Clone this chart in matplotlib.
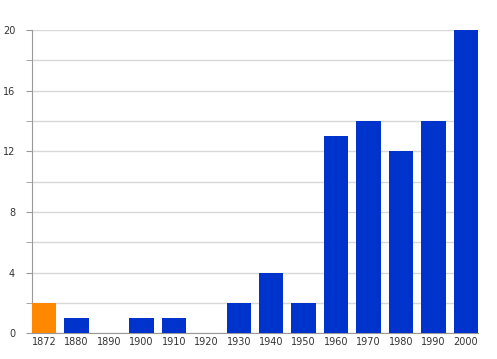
import matplotlib
matplotlib.use("Agg")
import matplotlib.pyplot as plt
import numpy as np

years = ['1872', '1880', '1890', '1900', '1910', '1920', '1930',
         '1940', '1950', '1960', '1970', '1980', '1990', '2000']
counts = [2, 1, 0, 1, 1, 0, 2, 4, 2, 13, 14, 12, 14, 20]
colors = ['#ff8800'] + ['#0033cc'] * (len(years) - 1)

fig = plt.figure(figsize=(4.97, 3.59), dpi=100)
ax = fig.add_axes([0.064, 0.072, 0.898, 0.844])

x = np.arange(len(years))
ax.bar(x, counts, width=0.75, color=colors, zorder=3)

ax.set_xlim(-0.375, len(years) - 0.625)
ax.set_ylim(0, 20)
ax.set_yticks(range(0, 21, 4))
ax.set_yticks(range(2, 21, 4), minor=True)
ax.set_xticks(x)
ax.set_xticklabels(years)
ax.tick_params(axis='x', length=0, labelsize=7, colors='#333333', pad=3)
ax.tick_params(axis='y', which='both', length=4, color='#999999',
               labelsize=7, labelcolor='#333333', pad=8)
ax.grid(axis='y', which='both', color='#d8d8d8', linewidth=1, zorder=0)

for s in ['top', 'right']:
    ax.spines[s].set_visible(False)
ax.spines['left'].set_color('#999999')
ax.spines['bottom'].set_color('#999999')

fig.savefig('out.png', dpi=100)
